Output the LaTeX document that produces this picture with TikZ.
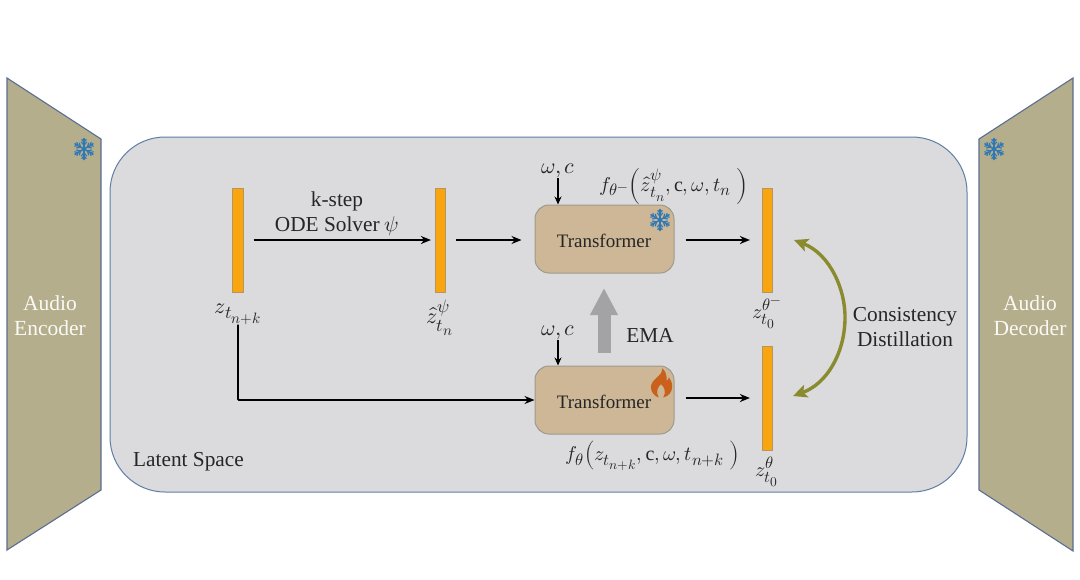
\documentclass[tikz,border=0pt]{standalone}
\usepackage{fontspec}
\usepackage{unicode-math}
\setmainfont{Liberation Serif}
\setmathfont{Latin Modern Math}
\DeclareMathSizes{22}{22}{18}{15}
\DeclareMathSizes{20}{20}{16.5}{13.5}
\usetikzlibrary{arrows.meta,positioning,calc}
\definecolor{panelfill}{HTML}{B5AE8C}
\definecolor{panelline}{HTML}{5A6E92}
\definecolor{latentfill}{HTML}{DBDBDD}
\definecolor{latentline}{HTML}{5F7EA6}
\definecolor{tffill}{HTML}{CDB796}
\definecolor{tfline}{HTML}{9C9A8C}
\definecolor{barfill}{HTML}{F9A50F}
\definecolor{barline}{HTML}{B8955E}
\definecolor{cdolive}{HTML}{8A8A2E}
\definecolor{emagray}{HTML}{A3A3A5}
\definecolor{iceblue}{HTML}{2F77B5}
\definecolor{flame}{HTML}{C9601C}
\tikzset{
  x=1pt,y=-1pt,
  panel/.style={draw=panelline,fill=panelfill,line width=1.1pt},
  paneltext/.style={text=white!92!panelfill,font=\fontsize{21.5}{25}\selectfont,align=center,inner sep=0pt},
  latent/.style={draw=latentline,fill=latentfill,line width=1pt,rectangle,rounded corners=55pt,minimum width=857pt,minimum height=355pt,inner sep=0pt},
  tfbox/.style={draw=tfline,fill=tffill,line width=1pt,rectangle,rounded corners=14pt,minimum width=139pt,minimum height=68pt,inner sep=0pt},
  tftext/.style={font=\fontsize{19}{22}\selectfont,text=black!85,inner sep=0pt},
  zbar/.style={draw=barline,fill=barfill,line width=.7pt,rectangle,minimum width=10.5pt,minimum height=104pt,inner sep=0pt},
  flow/.style={draw=black,line width=1.8pt,-{Stealth[length=10pt,width=8pt]}},
  lbl/.style={font=\fontsize{21.3}{25}\selectfont,inner sep=0pt,text=black!85,align=center},
  mlbl/.style={font=\fontsize{22}{26}\selectfont,inner sep=0pt,text=black!85},
  slbl/.style={font=\fontsize{20}{24}\selectfont,inner sep=0pt,text=black!85},
  snowflake/.pic={
    \foreach \a in {30,90,150,210,270,330}{
      \begin{scope}[rotate=\a]
        \draw[iceblue,line width=1.5pt,line cap=round] (0,0) -- (10.5,0);
        \draw[iceblue,line width=1.2pt,line cap=round] (4,0) -- (7,2.8) (4,0) -- (7,-2.8) (7,0) -- (9.5,2.2) (7,0) -- (9.5,-2.2);
      \end{scope}}
  },
  flamepic/.pic={
    \fill[flame,even odd rule,scale=1.12] (1,-14) .. controls (2,-7) and (-9,-5) .. (-9,3)
      .. controls (-9,7) and (-6,11) .. (-2,12) .. controls (-5,7) and (-3,3) .. (0,0)
      .. controls (3,3) and (5,7) .. (2,12) .. controls (7,11) and (10,7) .. (10,2)
      .. controls (10,-2) and (8,-4) .. (7,-6) .. controls (6.5,-4) and (6,-3) .. (5,-3)
      .. controls (5.5,-7) and (4,-12) .. (1,-14) -- cycle;
  }
}
\begin{document}
\begin{tikzpicture}
\useasboundingbox (0,0) rectangle (1080,579);
\fill[white] (0,0) rectangle (1080,579);

% panels
\draw[panel] (7,78) -- (101,139) -- (101,490) -- (7,550) -- cycle;
\draw[panel] (1073,78) -- (979,139) -- (979,490) -- (1073,551) -- cycle;
\node[paneltext] (enc) at (50,316) {Audio\\Encoder};
\node[paneltext] (dec) at (1030,316) {Audio\\Decoder};
\pic at (84,149) {snowflake};
\pic at (994,149) {snowflake};

% latent space
\node[latent] (latent) at (538.5,314.5) {};
\node[lbl,anchor=west] (lsl) at (133,461.5) {Latent Space};

% bars
\node[zbar] (b1) at (238,240) {};
\node[zbar] (b2) at (440.5,240) {};
\node[zbar] (b3) at (767.5,240) {};
\node[zbar] (b4) at (767.5,398) {};

% transformers
\node[tfbox] (t1) at (604.5,239) {};
\node[tfbox] (t2) at (604.5,400) {};
\node[tftext] (t1l) at (604,241) {Transformer};
\node[tftext] (t2l) at (604,402) {Transformer};
\pic at (660,220) {snowflake};
\pic at (661,384) {flamepic};

% labels
\node[mlbl] (z1) at (238,314) {$z_{t_{n+k}}$};
\node[mlbl] (z2) at (440,318) {$\hat{z}_{t_n}^{\psi}$};
\node[slbl] (z3) at (767,314) {$z_{t_0}^{\theta^{-}}$};
\node[slbl] (z4) at (767,472) {$z_{t_0}^{\theta}$};
\node[mlbl] (om1) at (558,171) {$\omega,c$};
\node[mlbl] (om2) at (558,333) {$\omega,c$};
\node[slbl] (f1) at (674,186) {$f_{\theta^{-}}\!\left(\hat{z}_{t_n}^{\psi},\mathrm{c},\omega,t_n\;\right)$};
\node[slbl] (f2) at (653,456) {$f_{\theta}\!\left(z_{t_{n+k}},\mathrm{c},\omega,t_{n+k}\;\right)$};
\node[lbl] (ode) at (337,214) {k-step\\ODE Solver $\psi$};
\node[lbl] (ema) at (650,335) {EMA};
\node[lbl] (cd) at (905,327) {Consistency\\Distillation};

% connectors
\draw[flow,shorten <=10pt,shorten >=4pt] (b1) -- (b2);
\draw[flow,shorten <=10pt,shorten >=13pt] (b2) -- (t1.west |- b2);
\draw[flow,shorten <=11pt,shorten >=12pt] (t1.east |- b3) -- (b3);
\draw[flow,shorten <=11pt,shorten >=12pt] (t2.east |- b4) -- (b4);
\draw[flow,rounded corners=1pt] (z1.south -| b1) |- (t2.west);
\draw[draw=black,line width=1.4pt,-{Stealth[length=8pt,width=7pt]}] (om1.south) -- (om1.south |- t1.north);
\draw[draw=black,line width=1.4pt,-{Stealth[length=8pt,width=7pt]}] (om2.south) -- (om2.south |- t2.north);

% EMA arrow
\coordinate (emaS) at (604,353);
\coordinate (emaE) at (604,288);
\draw[emagray,line width=13pt,-{Triangle[length=27pt,width=26pt]}] (emaS) -- (emaE);

% consistency arrow
\coordinate (cdA) at (794,240);
\coordinate (cdB) at (793,396);
\draw[cdolive,line width=3.4pt,{Stealth[length=14pt,width=13pt,inset=3pt]}-{Stealth[length=14pt,width=13pt,inset=3pt]}]
  (cdA) .. controls (830,254) and (846,290) .. (845,320) .. controls (844,355) and (826,384) .. (cdB);
\end{tikzpicture}
\end{document}
